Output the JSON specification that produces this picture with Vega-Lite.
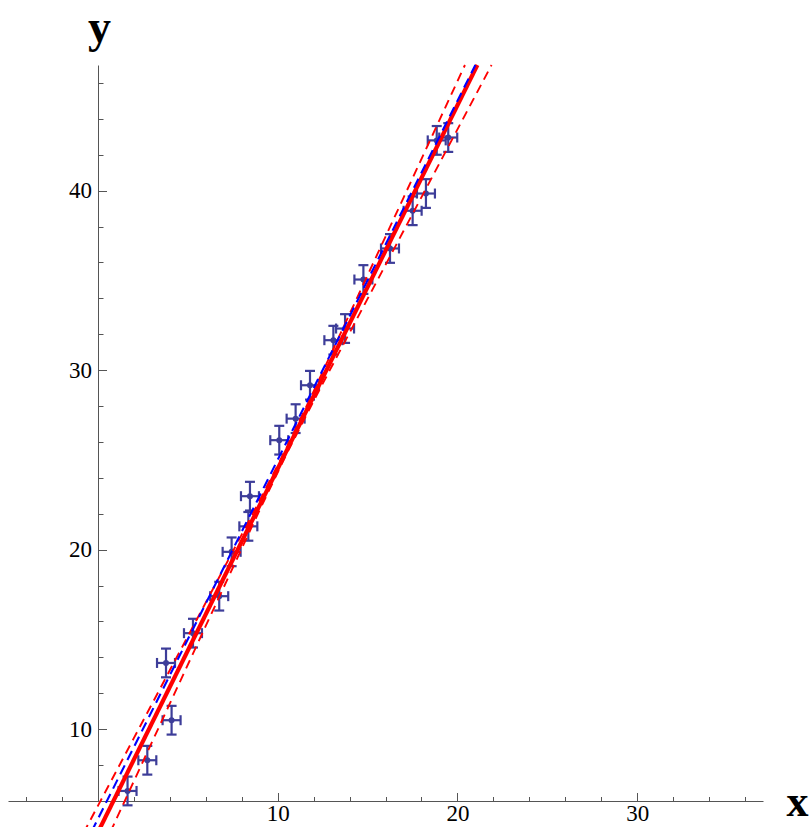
{
  "$schema": "https://vega.github.io/schema/vega-lite/v6.json",
  "width": 755,
  "height": 736,
  "autosize": "none",
  "padding": {"left": 8, "top": 65, "right": 46, "bottom": 26},
  "background": "white",
  "config": {
    "view": {"stroke": null},
    "axis": {
      "grid": false,
      "domainColor": "#555555",
      "tickColor": "#555555",
      "domainWidth": 1,
      "tickWidth": 1,
      "labelFont": "Liberation Serif",
      "labelFontSize": 23,
      "labelColor": "#000000",
      "titleFont": "Liberation Serif",
      "titleFontWeight": "bold",
      "titleColor": "#000000",
      "labelFlush": false,
      "labelOverlap": false
    }
  },
  "datasets": {
    "points": [
      {"x": 1.65, "y": 6.56, "ex": 0.5, "ey": 0.8},
      {"x": 2.75, "y": 8.27, "ex": 0.5, "ey": 0.8},
      {"x": 3.79, "y": 13.69, "ex": 0.5, "ey": 0.8},
      {"x": 4.10, "y": 10.50, "ex": 0.5, "ey": 0.8},
      {"x": 5.29, "y": 15.35, "ex": 0.5, "ey": 0.8},
      {"x": 6.75, "y": 17.41, "ex": 0.5, "ey": 0.8},
      {"x": 7.44, "y": 19.88, "ex": 0.5, "ey": 0.8},
      {"x": 8.37, "y": 21.30, "ex": 0.5, "ey": 0.8},
      {"x": 8.46, "y": 22.98, "ex": 0.5, "ey": 0.8},
      {"x": 10.09, "y": 26.10, "ex": 0.5, "ey": 0.8},
      {"x": 11.00, "y": 27.30, "ex": 0.5, "ey": 0.8},
      {"x": 11.80, "y": 29.16, "ex": 0.5, "ey": 0.8},
      {"x": 13.10, "y": 31.67, "ex": 0.5, "ey": 0.8},
      {"x": 13.75, "y": 32.32, "ex": 0.5, "ey": 0.8},
      {"x": 14.77, "y": 35.05, "ex": 0.5, "ey": 0.8},
      {"x": 16.25, "y": 36.78, "ex": 0.5, "ey": 0.8},
      {"x": 17.51, "y": 38.88, "ex": 0.5, "ey": 0.8},
      {"x": 18.25, "y": 39.84, "ex": 0.5, "ey": 0.8},
      {"x": 18.85, "y": 42.80, "ex": 0.5, "ey": 0.8},
      {"x": 19.49, "y": 42.96, "ex": 0.5, "ey": 0.8}
    ],
    "band": [
      {"side": "upper", "x": -0.8, "y": 4.22},
      {"side": "upper", "x": 0, "y": 5.73},
      {"side": "upper", "x": 2, "y": 9.50},
      {"side": "upper", "x": 4, "y": 13.28},
      {"side": "upper", "x": 6, "y": 17.05},
      {"side": "upper", "x": 8, "y": 20.84},
      {"side": "upper", "x": 9, "y": 22.75},
      {"side": "upper", "x": 10.5, "y": 25.68},
      {"side": "upper", "x": 12, "y": 28.82},
      {"side": "upper", "x": 13, "y": 30.97},
      {"side": "upper", "x": 15, "y": 35.28},
      {"side": "upper", "x": 17, "y": 39.60},
      {"side": "upper", "x": 19, "y": 43.93},
      {"side": "upper", "x": 20.42, "y": 47.0},
      {"side": "lower", "x": 0, "y": 2.77},
      {"side": "lower", "x": 2, "y": 7.10},
      {"side": "lower", "x": 4, "y": 11.42},
      {"side": "lower", "x": 6, "y": 15.75},
      {"side": "lower", "x": 8, "y": 20.06},
      {"side": "lower", "x": 9, "y": 22.21},
      {"side": "lower", "x": 10.5, "y": 25.34},
      {"side": "lower", "x": 12, "y": 28.28},
      {"side": "lower", "x": 13, "y": 30.19},
      {"side": "lower", "x": 15, "y": 33.97},
      {"side": "lower", "x": 17, "y": 37.75},
      {"side": "lower", "x": 19, "y": 41.52},
      {"side": "lower", "x": 21, "y": 45.30},
      {"side": "lower", "x": 21.9, "y": 47.0}
    ],
    "fit": [
      {"x": 0, "y": 4.25},
      {"x": 21.11, "y": 47.0}
    ],
    "truth": [
      {"x": -0.35, "y": 4.3},
      {"x": 21.0, "y": 47.0}
    ]
  },
  "layer": [
    {
      "data": {"name": "points"},
      "mark": {"type": "errorbar", "color": "#3d3d99", "opacity": 1, "thickness": 2.2, "ticks": {"size": 10, "thickness": 2.2, "color": "#3d3d99", "opacity": 1}},
      "encoding": {
        "x": {"field": "x", "type": "quantitative", "scale": {"domain": [-5, 37], "nice": false, "zero": false}, "axis": null},
        "y": {"field": "y", "type": "quantitative", "scale": {"domain": [6, 47], "nice": false, "zero": false}, "axis": null},
        "yError": {"field": "ey"}
      }
    },
    {
      "data": {"name": "points"},
      "mark": {"type": "errorbar", "color": "#3d3d99", "opacity": 1, "thickness": 2.2, "ticks": {"size": 10, "thickness": 2.2, "color": "#3d3d99", "opacity": 1}},
      "encoding": {
        "y": {"field": "y", "type": "quantitative", "scale": {"domain": [6, 47], "nice": false, "zero": false}, "axis": null},
        "x": {"field": "x", "type": "quantitative", "scale": {"domain": [-5, 37], "nice": false, "zero": false}, "axis": null},
        "xError": {"field": "ex"}
      }
    },
    {
      "data": {"name": "points"},
      "mark": {"type": "point", "filled": true, "color": "#3d3d99", "size": 36, "opacity": 1},
      "encoding": {
        "x": {"field": "x", "type": "quantitative", "scale": {"domain": [-5, 37], "nice": false, "zero": false},
          "axis": {"orient": "bottom", "values": [10, 20, 30], "tickSize": -8.5, "labelPadding": 10, "domain": true,
            "title": "x", "titleX": 778, "titleY": 14, "titleAlign": "left", "titleBaseline": "alphabetic", "titleAngle": 0, "titleFontSize": 44}},
        "y": {"field": "y", "type": "quantitative", "scale": {"domain": [6, 47], "nice": false, "zero": false},
          "axis": {"orient": "left", "offset": -90, "values": [10, 20, 30, 40], "tickSize": -8.5, "labelPadding": 15, "domain": true,
            "title": "y", "titleX": 1, "titleY": -24, "titleAlign": "center", "titleBaseline": "alphabetic", "titleAngle": 0, "titleFontSize": 46}}
      }
    },
    {
      "data": {"name": "band"},
      "mark": {"type": "line", "color": "#ff0000", "strokeWidth": 1.9, "strokeDash": [9, 6]},
      "encoding": {
        "x": {"field": "x", "type": "quantitative", "scale": {"domain": [-5, 37], "nice": false, "zero": false}, "axis": null},
        "y": {"field": "y", "type": "quantitative", "scale": {"domain": [6, 47], "nice": false, "zero": false}, "axis": null},
        "detail": {"field": "side"}
      }
    },
    {
      "data": {"name": "fit"},
      "mark": {"type": "line", "color": "#ff0000", "strokeWidth": 4.2},
      "encoding": {
        "x": {"field": "x", "type": "quantitative", "scale": {"domain": [-5, 37], "nice": false, "zero": false},
          "axis": {"orient": "bottom", "values": [-4, -2, 2, 4, 6, 8, 12, 14, 16, 18, 22, 24, 26, 28, 32, 34, 36], "tickSize": -4.5, "labels": false, "domain": false, "title": null}},
        "y": {"field": "y", "type": "quantitative", "scale": {"domain": [6, 47], "nice": false, "zero": false},
          "axis": {"orient": "left", "offset": -90, "values": [8, 12, 14, 16, 18, 22, 24, 26, 28, 32, 34, 36, 38, 42, 44, 46], "tickSize": -5, "labels": false, "domain": false, "title": null}}
      }
    },
    {
      "data": {"name": "truth"},
      "mark": {"type": "line", "color": "#0000ff", "strokeWidth": 2.1, "strokeDash": [10, 6]},
      "encoding": {
        "x": {"field": "x", "type": "quantitative", "scale": {"domain": [-5, 37], "nice": false, "zero": false}, "axis": null},
        "y": {"field": "y", "type": "quantitative", "scale": {"domain": [6, 47], "nice": false, "zero": false}, "axis": null}
      }
    }
  ],
  "resolve": {"axis": {"x": "independent", "y": "independent"}}
}
